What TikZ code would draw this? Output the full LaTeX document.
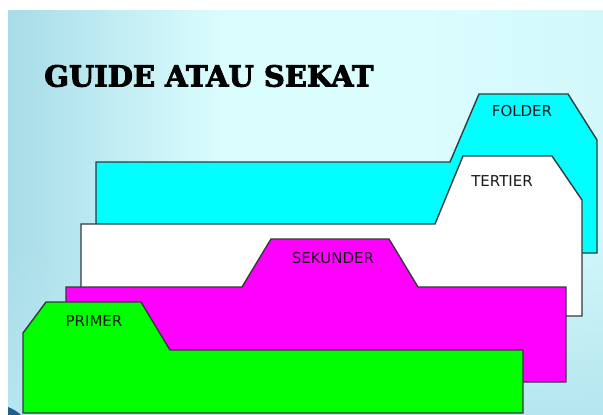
\documentclass[tikz,border=0pt]{standalone}
\usepackage{fontspec}
\setmainfont{DejaVu Sans}
\newfontfamily\titlefont[BoldFeatures={FakeBold=3}]{DejaVu Serif}
\usetikzlibrary{fadings}
\definecolor{bgA}{HTML}{A8DCE8}
\definecolor{bgB}{HTML}{DAFDFE}
\definecolor{bgC}{HTML}{D2F8FA}
\definecolor{bgD}{HTML}{B6E6EF}
\definecolor{edge}{HTML}{333A3C}
\definecolor{txt}{HTML}{1A1A1A}
\definecolor{fcyan}{RGB}{0,255,255}
\definecolor{fmag}{RGB}{255,0,255}
\definecolor{fgreen}{RGB}{0,255,0}
\definecolor{corner}{HTML}{1F5F8C}
\pgfdeclarehorizontalshading{bgshade}{100bp}{color(0bp)=(bgA); color(25bp)=(bgA); color(43bp)=(bgB); color(60bp)=(bgB); color(75bp)=(bgC); color(100bp)=(bgC)}
\tikzset{
  tab/.style={draw=edge, line width=1.4pt, line join=miter},
  lbl/.style={font=\fontsize{15}{16}\selectfont, text=txt, inner sep=0pt}
}
\begin{document}
\begin{tikzpicture}[x=1pt,y=-1pt]
\useasboundingbox (0,0) rectangle (603,415);
\fill[white] (0,0) rectangle (603,415);
\shade[shading=bgshade] (8,10) rectangle (603,415);
\fill[bgD, path fading=north] (8,230) rectangle (603,415);
% dark blue corner
\fill[corner] (8,407) .. controls (13,409) and (18,412) .. (21,415) -- (8,415) -- cycle;
% folder
\filldraw[tab, fill=fcyan] (96,260) -- (96,162) -- (450,162) -- (479,94) -- (568,94) -- (597,140) -- (597,253) -- (580,253);
% tertier
\filldraw[tab, fill=white] (81,316) -- (81,224) -- (435,224) -- (463,156) -- (552,156) -- (582,200) -- (582,316) -- cycle;
% sekunder
\filldraw[tab, fill=fmag] (66,382) -- (66,287) -- (242,287) -- (271,239) -- (389,239) -- (418,287) -- (566,287) -- (566,382) -- cycle;
% primer
\filldraw[tab, fill=fgreen] (23,413) -- (23,333) -- (46,302) -- (141,302) -- (170,350) -- (523,350) -- (523,413) -- cycle;
% labels
\node[lbl] (folder) at (522,111) {FOLDER};
\node[lbl] (tertier) at (502,181) {TERTIER};
\node[lbl] (sekunder) at (333,258) {SEKUNDER};
\node[lbl] (primer) at (94,321) {PRIMER};
\node[inner sep=0pt, anchor=west, font=\titlefont\bfseries\fontsize{29}{30}\selectfont] (title) at (44,76) {GUIDE ATAU SEKAT};
\end{tikzpicture}
\end{document}
